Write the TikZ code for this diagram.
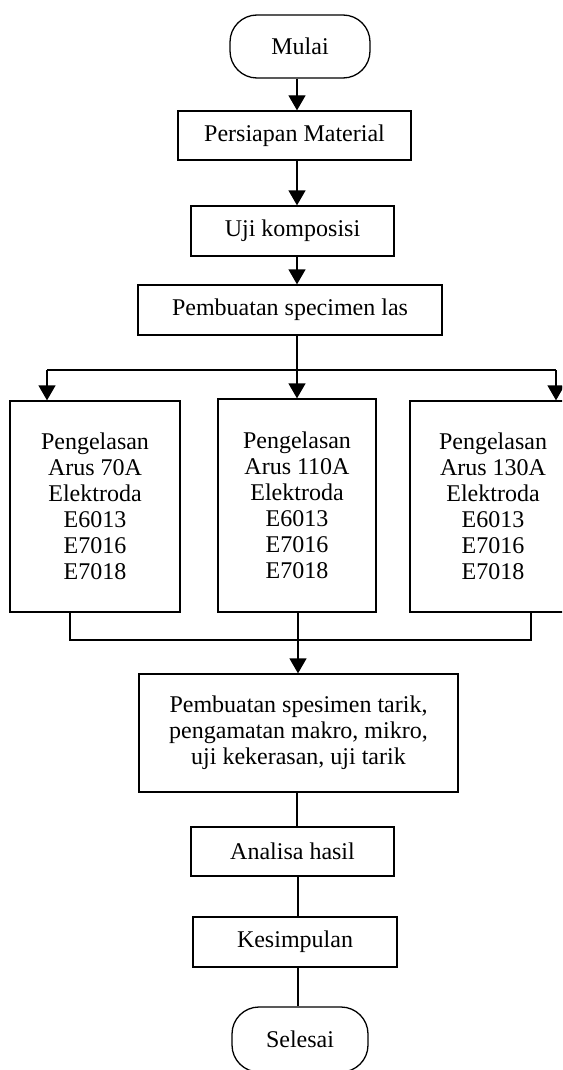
\documentclass[tikz,border=0pt]{standalone}
\usepackage{fontspec}
\setmainfont{Liberation Serif}
\usetikzlibrary{arrows.meta}
\tikzset{
  box/.style={draw, line width=1.3pt, inner sep=0pt, align=center,
    font=\fontsize{24}{26}\selectfont},
  term/.style={box, rounded corners=27pt},
  conn/.style={line width=1.3pt},
  arr/.style={conn, -{Triangle[width=17pt,length=15pt]}}
}
\begin{document}
\begin{tikzpicture}[x=1pt,y=-1pt]
\useasboundingbox (0,0) rectangle (562,1070);
\clip (0,0) rectangle (562,1070);
% nodes
\node[term, minimum width=140pt, minimum height=63pt] (mulai) at (300,46.5) {Mulai};
\node[box, minimum width=233pt, minimum height=49pt] (persiapan) at (294.5,135.5) {Persiapan Material};
\node[box, minimum width=203pt, minimum height=50pt] (uji) at (292.5,231) {Uji komposisi};
\node[box, minimum width=304pt, minimum height=50pt] (las) at (290,310) {Pembuatan specimen las};
\node[box, minimum width=170pt, minimum height=211pt] (p1) at (95,506.5) {Pengelasan\\Arus 70A\\Elektroda\\E6013\\E7016\\E7018};
\node[box, minimum width=158pt, minimum height=213pt] (p2) at (297,505.5) {Pengelasan\\Arus 110A\\Elektroda\\E6013\\E7016\\E7018};
\node[box, minimum width=166pt, minimum height=211pt] (p3) at (493,506.5) {Pengelasan\\Arus 130A\\Elektroda\\E6013\\E7016\\E7018};
\node[box, minimum width=319pt, minimum height=118pt] (big) at (298.5,733) {Pembuatan spesimen tarik,\\pengamatan makro, mikro,\\uji kekerasan, uji tarik};
\node[box, minimum width=203pt, minimum height=49pt] (analisa) at (292.5,851.5) {Analisa hasil};
\node[box, minimum width=204pt, minimum height=50pt] (kesimpulan) at (295,942) {Kesimpulan};
\node[term, minimum width=136pt, minimum height=65pt] (selesai) at (300,1039.5) {Selesai};
% helper coordinates
\coordinate (c1) at (297,0);
\coordinate (b0) at (297,370);
\coordinate (bl) at (47,370);
\coordinate (brr) at (556,370);
\coordinate (ml) at (70,640);
\coordinate (mr) at (531,640);
\coordinate (c2) at (298,0);
% connectors
\draw[arr] (mulai.south -| c1) -- (c1 |- persiapan.north);
\draw[arr] (persiapan.south -| c1) -- (c1 |- uji.north);
\draw[arr] (uji.south -| c1) -- (c1 |- las.north);
\draw[conn] (b0 |- las.south) -- (b0);
\draw[conn] (bl) -- (brr);
\draw[arr] (bl) -- (bl |- p1.north);
\draw[arr] (b0) -- (b0 |- p2.north);
\draw[arr] (brr) -- (brr |- p3.north);
\draw[conn] (ml |- p1.south) -- (ml) -- (mr) -- (mr |- p3.south);
\draw[arr] (p2.south -| c2) -- (c2 |- big.north);
\draw[conn] (big.south -| c1) -- (c1 |- analisa.north);
\draw[conn] (analisa.south -| c2) -- (c2 |- kesimpulan.north);
\draw[conn] (kesimpulan.south -| c2) -- (c2 |- selesai.north);
\end{tikzpicture}
\end{document}
